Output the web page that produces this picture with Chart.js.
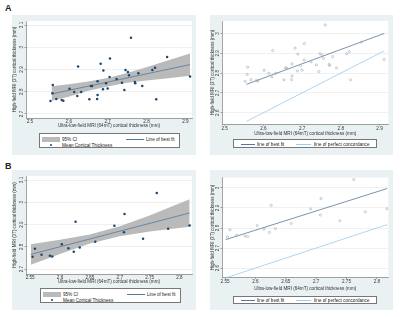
<!DOCTYPE html>
<html>
<head>
<meta charset="utf-8">
<script src="https://cdn.jsdelivr.net/npm/chart.js@4/dist/chart.umd.min.js"></script>
<style>
    body { margin: 0; width: 400px; height: 317px; background: #fff; position: relative; overflow: hidden;
           font-family: 'Liberation Sans', Arial, sans-serif; color: #222; }
    .panel { position: absolute; background: #eaf1f3; }
    .panel canvas { position: absolute; left: 0; top: 0; }
    .tag { position: absolute; font-weight: bold; font-size: 9px; line-height: 9px; }
    .legend { position: absolute; background: #fff; border: 0.6px solid #777; box-sizing: border-box; font-size: 4.6px; }
    .legend span, .legend i { position: absolute; white-space: nowrap; line-height: 5px; font-style: normal; }
</style>
</head>
<body>

<div class="tag" style="left:5px; top:4px;">A</div>
<div class="tag" style="left:5px; top:162px;">B</div>

<div class="panel" style="left:12px; top:15px; width:184px; height:140px;">
    <canvas id="aLeft" width="184" height="140"></canvas>
</div>
<div class="panel" style="left:210px; top:15px; width:183px; height:140px;">
    <canvas id="aRight" width="183" height="140"></canvas>
</div>
<div class="panel" style="left:12px; top:170px; width:184px; height:140px;">
    <canvas id="bLeft" width="184" height="140"></canvas>
</div>
<div class="panel" style="left:210px; top:170px; width:183px; height:140px;">
    <canvas id="bRight" width="183" height="140"></canvas>
</div>

<script>
// ---- data: panel A (all subjects) ----
const aX = [2.553, 2.558, 2.559, 2.568, 2.582, 2.586, 2.602, 2.614, 2.622, 2.624,
            2.632, 2.653, 2.657, 2.660, 2.673, 2.674, 2.674, 2.682, 2.688, 2.689,
            2.696, 2.700, 2.705, 2.706, 2.723, 2.737, 2.743, 2.746, 2.752, 2.755,
            2.760, 2.770, 2.771, 2.779, 2.789, 2.815, 2.822, 2.825, 2.853, 2.912];
const aY = [2.758, 2.793, 2.830, 2.767, 2.763, 2.760, 2.814, 2.799, 2.781, 2.914,
            2.799, 2.766, 2.826, 2.826, 2.767, 2.785, 2.847, 2.926, 2.811, 2.896,
            2.838, 2.815, 2.866, 2.949, 2.857, 2.841, 2.808, 2.898, 2.889, 2.874,
            3.043, 2.844, 2.838, 2.883, 2.826, 2.898, 2.908, 2.766, 2.956, 2.869];
const aFitX = [2.556, 2.912];
const aFitY = [2.790, 2.922];
const aCiX  = [2.556, 2.600, 2.650, 2.700, 2.750, 2.800, 2.850, 2.912];
const aCiLo = [2.760, 2.778, 2.804, 2.824, 2.840, 2.850, 2.860, 2.872];
const aCiHi = [2.825, 2.834, 2.846, 2.862, 2.884, 2.910, 2.938, 2.972];
const aFit2Y = [2.743, 3.000];
const aConcY = [2.556, 2.912];

// ---- data: panel B (subset) ----
const bX = [2.554, 2.558, 2.569, 2.583, 2.587, 2.603, 2.614, 2.623, 2.626, 2.633,
            2.659, 2.691, 2.708, 2.707, 2.739, 2.762, 2.781, 2.817];
const bY = [2.755, 2.791, 2.764, 2.760, 2.757, 2.812, 2.794, 2.778, 2.913, 2.797,
            2.823, 2.895, 2.947, 2.865, 2.836, 3.042, 2.881, 2.896];
const bFitX = [2.551, 2.817];
const bFitY = [2.766, 2.952];
const bCiX  = [2.551, 2.600, 2.650, 2.700, 2.750, 2.817];
const bCiLo = [2.720, 2.768, 2.815, 2.848, 2.869, 2.890];
const bCiHi = [2.812, 2.832, 2.855, 2.892, 2.941, 3.014];
const bFit2Y = [2.742, 2.997];
const bConcY = [2.551, 2.817];

// ---- ticks ----
const leftYTicks  = [2.7, 2.8, 2.9, 3, 3.1];
const rightYTicks = [2.6, 2.7, 2.8, 2.9, 3];
const aXTicks = [2.5, 2.6, 2.7, 2.8, 2.9];
const bXTicks = [2.55, 2.6, 2.65, 2.7, 2.75, 2.8];

const Y_TITLE = 'High-field MRI (3T) cortical thickness (mm)';
const X_TITLE = 'Ultra-low-field MRI (64mT) cortical thickness (mm)';
const FONT = "'Liberation Sans', Arial, sans-serif";

const NAVY = '#1a476f';
const FIT_COLOR = '#56789c';
const CONC_COLOR = '#9ccbee';
const BAND_COLOR = '#bababa';

function pairs(xs, ys) {
    return xs.map((x, i) => ({ x: x, y: ys[i] }));
}

function fmt(v) {
    return String(parseFloat(Number(v).toFixed(2)));
}

// white plot region behind the data
const plotBg = {
    id: 'plotBg',
    beforeDraw(chart) {
        const a = chart.chartArea;
        const ctx = chart.ctx;
        ctx.save();
        ctx.fillStyle = '#fff';
        ctx.fillRect(a.left, a.top, a.right - a.left, a.bottom - a.top);
        ctx.restore();
    }
};

function makeChart(id, cfg) {
    new Chart(document.getElementById(id), {
        type: 'scatter',
        data: { datasets: cfg.datasets },
        plugins: [plotBg],
        options: {
            responsive: false,
            animation: false,
            events: [],
            layout: { padding: cfg.padding },
            plugins: { legend: { display: false }, tooltip: { enabled: false } },
            scales: {
                x: {
                    type: 'linear',
                    min: cfg.xRange[0],
                    max: cfg.xRange[1],
                    afterBuildTicks: s => { s.ticks = cfg.xTicks.map(v => ({ value: v })); },
                    afterFit: s => { s.height = cfg.xH; },
                    ticks: { font: { size: 4.6, family: FONT }, color: '#333', padding: cfg.xPad,
                             maxRotation: 0, autoSkip: false, callback: fmt },
                    grid: { drawOnChartArea: false, tickLength: 1.5, tickColor: '#666', lineWidth: 0.6 },
                    border: { color: '#666', width: 0.6 },
                    title: { display: true, text: X_TITLE, color: '#333', padding: 0,
                             font: { size: 4.6, family: FONT } }
                },
                y: {
                    type: 'linear',
                    min: cfg.yRange[0],
                    max: cfg.yRange[1],
                    afterBuildTicks: s => { s.ticks = cfg.yTicks.map(v => ({ value: v })); },
                    afterFit: s => { s.width = cfg.yW; },
                    ticks: { font: { size: 4.6, family: FONT }, color: '#333', padding: 0,
                             minRotation: 90, maxRotation: 90, crossAlign: 'center', callback: fmt },
                    grid: { color: '#e6e6e6', lineWidth: 0.6, tickLength: 1.5, tickColor: '#666' },
                    border: { color: '#666', width: 0.6 },
                    title: { display: true, text: Y_TITLE, color: '#333', padding: 0,
                             font: { size: 4.5, family: FONT } }
                }
            }
        }
    });
}

function leftDatasets(xs, ys, fitX, fitY, ciX, ciLo, ciHi) {
    return [
        { data: pairs(xs, ys), pointRadius: 1.25, backgroundColor: NAVY, borderWidth: 0 },
        { type: 'line', data: pairs(fitX, fitY), borderColor: FIT_COLOR, borderWidth: 0.8,
          pointRadius: 0, fill: false },
        { type: 'line', data: pairs(ciX, ciHi), borderWidth: 0, pointRadius: 0,
          backgroundColor: BAND_COLOR, fill: '+1' },
        { type: 'line', data: pairs(ciX, ciLo), borderWidth: 0, pointRadius: 0, fill: false }
    ];
}

function rightDatasets(xs, ys, fitX, fit2Y, concY) {
    return [
        { data: pairs(xs, ys), pointRadius: 1.1, backgroundColor: 'rgba(0,0,0,0)',
          borderColor: '#a8a8a8', borderWidth: 0.6 },
        { type: 'line', data: pairs(fitX, fit2Y), borderColor: FIT_COLOR, borderWidth: 0.8,
          pointRadius: 0, fill: false },
        { type: 'line', data: pairs(fitX, concY), borderColor: CONC_COLOR, borderWidth: 0.8,
          pointRadius: 0, fill: false }
    ];
}

makeChart('aLeft', {
    datasets: leftDatasets(aX, aY, aFitX, aFitY, aCiX, aCiLo, aCiHi),
    xRange: [2.49, 2.917], yRange: [2.682, 3.118],
    xTicks: aXTicks, yTicks: leftYTicks,
    padding: { left: 0, right: 4, top: 6, bottom: 26.5 }, yW: 14, xH: 10.5, xPad: -1
});
makeChart('aRight', {
    datasets: rightDatasets(aX, aY, aFitX, aFit2Y, aConcY),
    xRange: [2.493, 2.923], yRange: [2.543, 3.063],
    xTicks: aXTicks, yTicks: rightYTicks,
    padding: { left: 0, right: 3, top: 6, bottom: 18.7 }, yW: 12, xH: 12.3, xPad: 0
});
makeChart('bLeft', {
    datasets: leftDatasets(bX, bY, bFitX, bFitY, bCiX, bCiLo, bCiHi),
    xRange: [2.543, 2.821], yRange: [2.678, 3.118],
    xTicks: bXTicks, yTicks: leftYTicks,
    padding: { left: 0, right: 3.3, top: 6, bottom: 25.5 }, yW: 14, xH: 10.5, xPad: -1
});
makeChart('bRight', {
    datasets: rightDatasets(bX, bY, bFitX, bFit2Y, bConcY),
    xRange: [2.545, 2.819], yRange: [2.553, 3.052],
    xTicks: bXTicks, yTicks: rightYTicks,
    padding: { left: 0, right: 3, top: 7.5, bottom: 19 }, yW: 12, xH: 13.5, xPad: 0
});

// ---- legends (HTML) ----
function leftLegend(left, top) {
    const box = document.createElement('div');
    box.className = 'legend';
    box.style.left = left + 'px';
    box.style.top = top + 'px';
    box.style.width = '141px';
    box.style.height = '15px';
    box.innerHTML =
        '<i style="left:2px;top:3px;width:17.5px;height:4.7px;background:' + BAND_COLOR + '"></i>' +
        '<span style="left:22px;top:2.8px;">95% CI</span>' +
        '<i style="left:86px;top:5px;width:18px;height:0.8px;background:' + FIT_COLOR + '"></i>' +
        '<span style="left:106px;top:2.8px;">Line of best fit</span>' +
        '<i style="left:9.6px;top:9.8px;width:2.6px;height:2.6px;border-radius:50%;background:' + NAVY + '"></i>' +
        '<span style="left:22px;top:8.6px;">Mean Cortical Thickness</span>';
    document.body.appendChild(box);
}

function rightLegend(left, top) {
    const box = document.createElement('div');
    box.className = 'legend';
    box.style.left = left + 'px';
    box.style.top = top + 'px';
    box.style.width = '143.5px';
    box.style.height = '8.4px';
    box.innerHTML =
        '<i style="left:7px;top:3.8px;width:14px;height:0.8px;background:' + FIT_COLOR + '"></i>' +
        '<span style="left:23px;top:1.6px;">line of best fit</span>' +
        '<i style="left:62px;top:3.8px;width:15px;height:0.8px;background:' + CONC_COLOR + '"></i>' +
        '<span style="left:80px;top:1.6px;">line of perfect concordance</span>';
    document.body.appendChild(box);
}

leftLegend(39, 133);
rightLegend(233.3, 139.3);
leftLegend(40, 288);
rightLegend(233.3, 295.7);
</script>
</body>
</html>
